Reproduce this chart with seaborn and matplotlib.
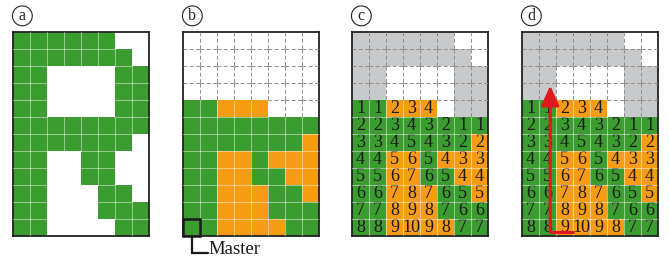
import matplotlib
matplotlib.use('Agg')
from matplotlib import pyplot as plt
from matplotlib.colors import ListedColormap
from matplotlib.patches import Rectangle
import numpy as np
import seaborn as sns

# cell states: W = empty, G = green, O = orange, S = grey (shaded)
grid_a = ["GGGGGGWW",
          "GGGGGGGW",
          "GGWWWWGG",
          "GGWWWWGG",
          "GGWWWWGG",
          "GGGGGGGG",
          "GGGGGGGW",
          "GGWWGGWW",
          "GGWWGGWW",
          "GGWWWGGW",
          "GGWWWGGG",
          "GGWWWWGG"]

grid_bottom = ["GGGGGGGG",
               "GGGGGGGO",
               "GGOOGOOO",
               "GGOOGGOO",
               "GGOOOGGO",
               "GGOOOGGG",
               "GGOOOOGG"]

grid_b = ["WWWWWWWW"] * 4 + ["GGOOOWWW"] + grid_bottom

grid_c = ["SSSSSSWW",
          "SSSSSSSW",
          "SSWWWWSS",
          "SSWWWWSS",
          "GGOOOWSS"] + grid_bottom

grid_d = list(grid_c)

# step numbers shown in panels c and d (rows 5..12 from top)
numbers = [[1, 1, 2, 3, 4, None, None, None],
           [2, 2, 3, 4, 3, 2, 1, 1],
           [3, 3, 4, 5, 4, 3, 2, 2],
           [4, 4, 5, 6, 5, 4, 3, 3],
           [5, 5, 6, 7, 6, 5, 4, 4],
           [6, 6, 7, 8, 7, 6, 5, 5],
           [7, 7, 8, 9, 8, 7, 6, 6],
           [8, 8, 9, 10, 9, 8, 7, 7]]
number_row_start = 4

panel_letters = ["a", "b", "c", "d"]

codes = {"W": 0, "G": 1, "O": 2, "S": 3}
cmap = ListedColormap(["#ffffff", "#3b9c2f", "#f59b14", "#c8c9cb"])

sns.set_theme(style="white")
plt.rcParams['font.family'] = ['Liberation Serif', 'DejaVu Serif']


def to_matrix(grid):
    return np.array([[codes[ch] for ch in row] for row in grid])


def number_labels(n_rows, n_cols):
    lab = np.full((n_rows, n_cols), "", dtype=object)
    for i, row in enumerate(numbers):
        for j, v in enumerate(row):
            if v is not None:
                lab[number_row_start + i, j] = str(v)
    return lab


def draw_edges(ax, m, dashed):
    n_rows, n_cols = m.shape
    filled = m == 1
    filled |= m == 2

    def edge(a, b, xs, ys):
        if filled[a] and filled[b]:
            ax.plot(xs, ys, color=(1, 1, 1, 0.45), lw=0.8, zorder=3)
        elif dashed and not filled[a] and not filled[b]:
            ax.plot(xs, ys, color="#8e8e8e", lw=0.7, ls=(0, (4, 2.5)), zorder=3)

    for r in range(n_rows):
        for c in range(n_cols - 1):
            edge((r, c), (r, c + 1), [c + 1, c + 1], [r, r + 1])
    for r in range(n_rows - 1):
        for c in range(n_cols):
            edge((r, c), (r + 1, c), [c, c + 1], [r + 1, r + 1])


fig = plt.figure(figsize=(6.7, 2.6), dpi=100)
lefts = [13, 183, 352, 522]
grids = [grid_a, grid_b, grid_c, grid_d]

axes = []
for k, (grid, left) in enumerate(zip(grids, lefts)):
    ax = fig.add_axes([left / 670, 24 / 260, 136 / 670, 204 / 260])
    m = to_matrix(grid)
    annot = number_labels(*m.shape) if k >= 2 else False
    sns.heatmap(m, cmap=cmap, vmin=-0.5, vmax=3.5, cbar=False,
                annot=annot, fmt="", linewidths=0,
                annot_kws=dict(fontsize=13, color="#1a1a1a"),
                xticklabels=False, yticklabels=False, ax=ax)
    draw_edges(ax, m, dashed=k > 0)
    for sp in ax.spines.values():
        sp.set_visible(True)
        sp.set_color("#222222")
        sp.set_linewidth(1.3)
    ax.text(0.55, -0.95, panel_letters[k], ha="center", va="center",
            fontsize=11.5, clip_on=False,
            bbox=dict(boxstyle="circle,pad=0.12", fc="none", ec="#222222", lw=0.8))
    axes.append(ax)

# Master cell marker in panel b
ax = axes[1]
ax.add_patch(Rectangle((0, 11), 1, 1, fill=False, ec="k", lw=1.8, clip_on=False, zorder=5))
ax.plot([0.5, 0.5, 1.45], [12, 12.98, 12.98], color="k", lw=1.6,
        clip_on=False, solid_joinstyle="miter", zorder=5)
ax.text(1.5, 13.05, "Master", ha="left", va="baseline", fontsize=13.5,
        color="#1a1a1a", clip_on=False)

# red path arrow in panel d
ax = axes[3]
red = "#e2181f"
ax.plot([3.08, 1.66], [11.75, 11.75], color=red, lw=2.2, zorder=6,
        solid_capstyle="butt")
ax.annotate("", xy=(1.66, 3.15), xytext=(1.66, 11.75),
            arrowprops=dict(arrowstyle="-|>,head_length=1.0,head_width=0.45",
                            color=red, lw=2.2, shrinkA=0, shrinkB=0),
            zorder=6)

fig.savefig("out.png", dpi=100)
